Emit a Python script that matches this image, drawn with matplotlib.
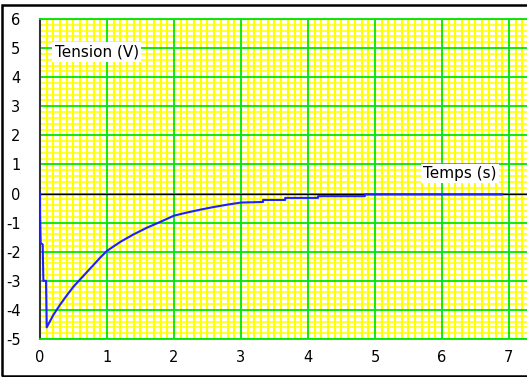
#!/usr/bin/env python3
import matplotlib
matplotlib.use("Agg")
import matplotlib.pyplot as plt
from matplotlib.patches import Rectangle
from matplotlib.ticker import MultipleLocator

OUT_PNG = "out.png"

TEMPS = [0.0, 0.0, 0.01, 0.04, 0.05, 0.09, 0.1, 0.2, 0.3, 0.4, 0.5, 0.6, 0.7, 0.8,
         0.9, 1.0, 1.2, 1.4, 1.6, 1.8, 2.0, 2.2, 2.4, 2.6, 2.8, 3.0, 3.33,
         3.33, 3.66, 3.66, 4.15, 4.15, 4.85, 4.85, 6.9]
TENSION = [0.0, -0.6, -1.7, -1.75, -3.0, -3.0, -4.6, -4.17, -3.82, -3.5, -3.2,
           -2.95, -2.7, -2.45, -2.2, -1.97, -1.66, -1.4, -1.17, -0.97, -0.76,
           -0.65, -0.55, -0.46, -0.38, -0.31, -0.29, -0.22, -0.22, -0.15,
           -0.15, -0.09, -0.09, -0.03, -0.03]

X_TICKS = [0, 1, 2, 3, 4, 5, 6, 7]
Y_TICKS = [-5, -4, -3, -2, -1, 0, 1, 2, 3, 4, 5, 6]

W, H = 527, 377
GREEN = "#00e600"

plt.rcParams["axes.unicode_minus"] = False


def main():
    fig = plt.figure(figsize=(W / 100, H / 100), dpi=100)
    fig.patch.set_facecolor("white")
    ax = fig.add_axes([40 / W, 38 / H, (W - 40) / W, (339 - 19) / H])

    ax.set_xlim(0, 7.27)
    ax.set_ylim(-5, 6)
    ax.set_facecolor("white")

    ax.xaxis.set_minor_locator(MultipleLocator(0.1))
    ax.yaxis.set_minor_locator(MultipleLocator(0.2))
    ax.set_xticks(X_TICKS)
    ax.set_yticks(Y_TICKS)

    # fine yellow graph paper, green lines on whole units
    ax.xaxis.grid(True, which="minor", color="#ffff00", lw=1.5, zorder=0.5)
    ax.yaxis.grid(True, which="minor", color="#ffff00", lw=1.1, zorder=0.5)
    ax.set_axisbelow(True)
    for x in X_TICKS[1:]:
        ax.axvline(x, color=GREEN, lw=1.3, zorder=1)
    for y in Y_TICKS:
        ax.axhline(y, color=GREEN, lw=1.3, zorder=1)

    ax.axhline(0, color="black", lw=1.0, zorder=2)
    ax.plot(TEMPS, TENSION, color="#2020ff", lw=1.5, zorder=3)

    ax.tick_params(which="both", length=0)
    ax.tick_params(axis="y", pad=14, labelsize=10.5)
    ax.tick_params(axis="x", pad=8, labelsize=10.5)

    for side in ("top", "bottom"):
        ax.spines[side].set_color(GREEN)
        ax.spines[side].set_linewidth(1.3)
    ax.spines["right"].set_visible(False)
    ax.spines["left"].set_color("#333333")
    ax.spines["left"].set_linewidth(1.5)

    box = dict(boxstyle="square,pad=0.15", fc="white", ec="none")
    ax.text(0.22, 4.87, "Tension (V)", fontsize=11, va="center", ha="left",
            bbox=box, zorder=4)
    ax.text(5.72, 0.69, "Temps (s)", fontsize=11, va="center", ha="left",
            bbox=box, zorder=4)

    # window frame of the original capture
    fig.patches.append(Rectangle((2 / W, 1.5 / H), 1.2, (H - 6.5) / H,
                                 transform=fig.transFigure, fill=False,
                                 ec="black", lw=1.8))

    fig.savefig(OUT_PNG, dpi=100)
    plt.close(fig)


if __name__ == "__main__":
    main()
